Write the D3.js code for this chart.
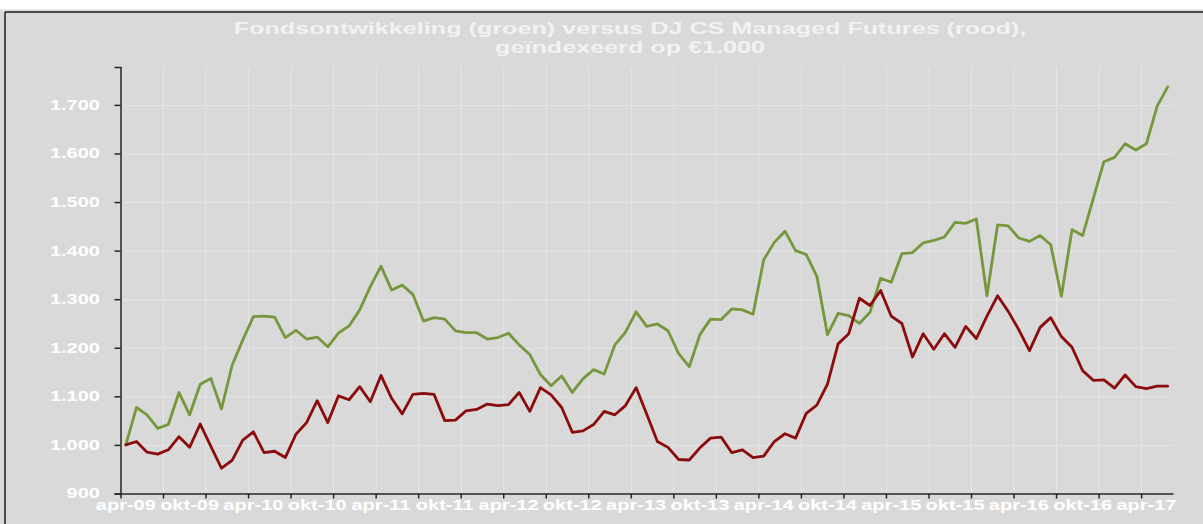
<!DOCTYPE html>
<html>
<head>
<meta charset="utf-8">
<script src="https://cdn.jsdelivr.net/npm/d3@7"></script>
<style>
  body { margin: 0; background: #ffffff; }
  svg { display: block; font-family: "Liberation Sans", Arial, sans-serif; }
</style>
</head>
<body>
<svg id="chart" width="1203" height="524"></svg>
<script>
// fondsontwikkeling (groen), maandelijks vanaf apr-09
var fund = [1000, 1077, 1062, 1034, 1042, 1108, 1062, 1125, 1137, 1074,
            1164, 1216, 1264, 1265, 1263, 1221, 1236, 1218, 1222, 1202,
            1230, 1245, 1278, 1326, 1368, 1319, 1329, 1310, 1255, 1262,
            1259, 1235, 1231, 1231, 1218, 1221, 1230, 1206, 1186, 1145,
            1122, 1142, 1108, 1136, 1155, 1146, 1206, 1232, 1274, 1244,
            1249, 1235, 1188, 1161, 1227, 1259, 1258, 1280, 1278, 1269,
            1381, 1417, 1440, 1400, 1392, 1347, 1227, 1271, 1266, 1250,
            1273, 1343, 1335, 1394, 1396, 1416, 1421, 1428, 1458, 1456,
            1465, 1307, 1453, 1451, 1426, 1419, 1431, 1412, 1306, 1443,
            1431, 1507, 1583, 1592, 1620, 1607, 1620, 1697, 1737];

// DJ CS Managed Futures (rood)
var futures = [1000, 1007, 985, 981, 990, 1017, 995, 1043, 997, 952,
               968, 1010, 1027, 984, 987, 974, 1022, 1046, 1091, 1046,
               1101, 1093, 1120, 1089, 1143, 1096, 1064, 1104, 1106, 1104,
               1050, 1051, 1070, 1073, 1084, 1081, 1083, 1108, 1069, 1118,
               1103, 1077, 1026, 1029, 1042, 1069, 1062, 1081, 1118, 1063,
               1007, 995, 970, 969, 994, 1014, 1016, 984, 990, 974,
               977, 1007, 1023, 1014, 1065, 1082, 1125, 1208, 1229, 1302,
               1287, 1318, 1265, 1250, 1181, 1229, 1197, 1229, 1201, 1244,
               1219, 1265, 1307, 1275, 1237, 1194, 1242, 1262, 1223, 1201,
               1153, 1133, 1134, 1117, 1144, 1120, 1116, 1121, 1121];

var monthNames = ["jan", "feb", "mrt", "apr", "mei", "jun", "jul", "aug", "sep", "okt", "nov", "dec"];
var months = d3.range(fund.length).map(function(i) {
    var m = 3 + i;
    return monthNames[m % 12] + "-" + d3.format("02")(9 + Math.floor(m / 12));
});
var tickLabels = ["apr-09", "okt-09", "apr-10", "okt-10", "apr-11", "okt-11", "apr-12", "okt-12", "apr-13",
                  "okt-13", "apr-14", "okt-14", "apr-15", "okt-15", "apr-16", "okt-16", "apr-17"];
var yTicks = [900, 1000, 1100, 1200, 1300, 1400, 1500, 1600, 1700];

var nl = d3.formatLocale({decimal: ",", thousands: ".", grouping: [3], currency: ["€", ""]});
var stretch = 1.43;

var svg = d3.select("#chart");
var plotLeft = 120.5, plotRight = 1173, plotTop = 67, plotBottom = 493.5;

// achtergrond
svg.append("rect").attr("x", 0).attr("y", 9.5).attr("width", 1203).attr("height", 515).attr("fill", "#d9d9d9");
svg.append("line").attr("x1", 5).attr("x2", 1203).attr("y1", 12).attr("y2", 12).attr("stroke", "#1a1a1a").attr("stroke-width", 1.5);
svg.append("line").attr("x1", 5).attr("x2", 5).attr("y1", 12).attr("y2", 524).attr("stroke", "#1a1a1a").attr("stroke-width", 1.5);

var x = d3.scaleBand().domain(months).range([plotLeft, plotRight]).padding(0);
var xb = d3.scaleLinear().domain([0, months.length]).range([plotLeft, plotRight]);
var y = d3.scaleLinear().domain([900, 1778]).range([plotBottom, plotTop]);

// gridlines
svg.append("g")
    .attr("transform", "translate(0," + plotBottom + ")")
    .call(d3.axisBottom(xb).tickValues(d3.range(4, 97, 4)).tickSize(-(plotBottom - plotTop)).tickFormat(""))
    .call(function(g) { g.select(".domain").remove(); })
    .selectAll("line").attr("stroke", "#e6e6e6").attr("stroke-width", 1);

svg.append("g")
    .attr("transform", "translate(" + plotLeft + ",0)")
    .call(d3.axisLeft(y).tickValues(yTicks.slice(1)).tickSize(-(plotRight - plotLeft)).tickFormat(""))
    .call(function(g) { g.select(".domain").remove(); })
    .selectAll("line").attr("stroke", "#e6e6e6").attr("stroke-width", 1);

// lijnen
var line = function(values) {
    return d3.line()
        .x(function(d, i) { return x(months[i]) + x.bandwidth() / 2; })
        .y(function(d) { return y(d); })(values);
};

svg.append("path").attr("d", line(fund))
    .attr("fill", "none").attr("stroke", "#77973d").attr("stroke-width", 2.8)
    .attr("stroke-linejoin", "round").attr("stroke-linecap", "round");

svg.append("path").attr("d", line(futures))
    .attr("fill", "none").attr("stroke", "#8b0c0c").attr("stroke-width", 2.8)
    .attr("stroke-linejoin", "round").attr("stroke-linecap", "round");

// assen
var yAxis = svg.append("g")
    .attr("transform", "translate(" + plotLeft + ",0)")
    .call(d3.axisLeft(y).tickValues(yTicks).tickSize(6).tickFormat(nl.format(",")));
yAxis.selectAll("path, line").attr("stroke", "#262626").attr("stroke-width", 1.5);
yAxis.selectAll("text")
    .attr("x", -20.5 / stretch)
    .attr("transform", "scale(" + stretch + ",1)")
    .attr("fill", "#ffffff").attr("font-size", "14px").attr("font-weight", "bold")
    .attr("font-family", "'Liberation Sans', Arial, sans-serif");

var xTicks = svg.append("g")
    .attr("transform", "translate(0," + plotBottom + ")")
    .call(d3.axisBottom(xb).tickValues(d3.range(0, 97, 4)).tickSize(5).tickSizeOuter(0).tickFormat(""));
xTicks.selectAll("path, line").attr("stroke", "#262626").attr("stroke-width", 1.5);

var xLabels = svg.append("g")
    .attr("transform", "translate(0," + plotBottom + ")")
    .call(d3.axisBottom(x).tickValues(tickLabels).tickSize(0));
xLabels.select(".domain").remove();
xLabels.selectAll("text")
    .attr("y", 17).attr("dy", 0)
    .attr("transform", "scale(" + stretch + ",1)")
    .attr("fill", "#ffffff").attr("font-size", "14px").attr("font-weight", "bold")
    .attr("font-family", "'Liberation Sans', Arial, sans-serif");

// titel
var titleLines = ["Fondsontwikkeling (groen) versus DJ CS Managed Futures (rood),", "geïndexeerd op €1.000"];
var titleY = [34, 53];
titleLines.forEach(function(t, i) {
    svg.append("g")
        .attr("transform", "translate(630," + titleY[i] + ") scale(1.48,1)")
        .append("text")
        .attr("text-anchor", "middle")
        .attr("fill", "#f2f2f2").attr("font-size", "17px").attr("font-weight", "bold")
        .text(t);
});
</script>
</body>
</html>
